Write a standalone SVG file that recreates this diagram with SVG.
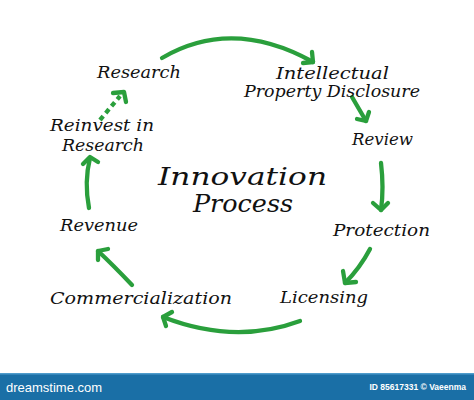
<svg xmlns="http://www.w3.org/2000/svg" width="474" height="400" viewBox="0 0 474 400">
<style>
.t{font-family:"DejaVu Serif","Liberation Serif",serif;font-style:italic;font-size:16px;fill:#111}
.big{font-size:25px}
.a{fill:none;stroke:#2a9f3c;stroke-width:4.3;stroke-linecap:round;stroke-linejoin:round}
.d{stroke-dasharray:5 4;stroke-linecap:butt}
.w{font-family:"Liberation Sans",Arial,sans-serif;fill:#fff}
</style>
<rect width="474" height="400" fill="#fff"/>
<g id="connectors">
<path class="a" d="M162,58 Q232,17 313,62"/>
<path class="a" d="M312,52 L313,62 L303,63"/>
<path class="a" d="M352,97 L366,121"/>
<path class="a" d="M369,112 L366,121 L357,119"/>
<path class="a" d="M381,163 Q384,188 381,210"/>
<path class="a" d="M373,203 L381,210 L388,203"/>
<path class="a" d="M370,249 Q360,268 345,283"/>
<path class="a" d="M343,271 L345,283 L356,282"/>
<path class="a" d="M300,321 Q235,345 163,317"/>
<path class="a" d="M172,312 L163,317 L166,326"/>
<path class="a" d="M132,285 Q113,265 98,251"/>
<path class="a" d="M108,249 L98,251 L98,260"/>
<path class="a" d="M89,208 Q84,182 90,158"/>
<path class="a" d="M83,164 L90,157 L98,162"/>
<path class="a d" d="M100,120 L120,96"/>
<path class="a" d="M113,93 L124,92 L126,102"/>
</g>
<g id="title"><text class="t big" x="158" y="185" textLength="169" lengthAdjust="spacingAndGlyphs">Innovation</text><text class="t big" x="193" y="212" textLength="100" lengthAdjust="spacingAndGlyphs">Process</text></g>
<g id="research"><text class="t" x="97" y="78" textLength="84" lengthAdjust="spacingAndGlyphs">Research</text></g>
<g id="ipd"><text class="t" x="276" y="79" textLength="113" lengthAdjust="spacingAndGlyphs">Intellectual</text><text class="t" x="244" y="97" textLength="176" lengthAdjust="spacingAndGlyphs">Property Disclosure</text></g>
<g id="review"><text class="t" x="352" y="145" textLength="61" lengthAdjust="spacingAndGlyphs">Review</text></g>
<g id="protection"><text class="t" x="333" y="236" textLength="97" lengthAdjust="spacingAndGlyphs">Protection</text></g>
<g id="licensing"><text class="t" x="280" y="303" textLength="88" lengthAdjust="spacingAndGlyphs">Licensing</text></g>
<g id="commercialization"><text class="t" x="50" y="304" textLength="182" lengthAdjust="spacingAndGlyphs">Commercialization</text></g>
<g id="revenue"><text class="t" x="60" y="231" textLength="78" lengthAdjust="spacingAndGlyphs">Revenue</text></g>
<g id="reinvest"><text class="t" x="50" y="131" textLength="104" lengthAdjust="spacingAndGlyphs">Reinvest in</text><text class="t" x="62" y="151" textLength="82" lengthAdjust="spacingAndGlyphs">Research</text></g>
<g id="banner">
<rect x="0" y="373" width="474" height="27" fill="#1a6fa6"/>
<rect x="0" y="373" width="474" height="1.5" fill="#4f9ccc"/>
<text class="w" x="6" y="392" font-size="13">dreamstime.com</text>
<text class="w" x="466" y="390" font-size="8.5" font-weight="bold" text-anchor="end">ID 85617331 © Vaeenma</text>
</g>
</svg>
